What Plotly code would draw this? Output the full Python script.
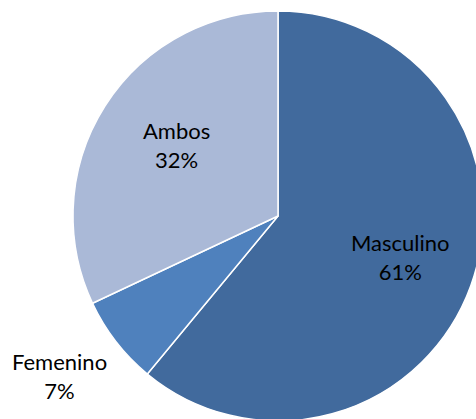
import plotly.graph_objects as go

labels = ["Masculino", "Femenino", "Ambos"]
values = [61, 7, 32]
colors = ["#416A9D", "#4F81BD", "#AAB9D7"]

# label anchor points (pixels in the 476x419 view) - styling only
label_px = [(400, 257), (59, 376), (176, 145)]

W, H = 486, 424
ML, MT = 73, 11
SIDE = 410

fig = go.Figure(go.Pie(
    labels=labels,
    values=values,
    sort=False,
    direction="clockwise",
    rotation=0,
    marker=dict(colors=colors, line=dict(color="white", width=1.5)),
    textinfo="none",
    showlegend=False,
    hoverinfo="skip",
))

total = sum(values)
for lab, val, (px, py) in zip(labels, values, label_px):
    fig.add_annotation(
        x=(px - ML) / SIDE,
        y=1 - (py - MT) / SIDE,
        xref="paper",
        yref="paper",
        text=f"{lab}<br>{round(100 * val / total)}%",
        showarrow=False,
        xanchor="center",
        yanchor="middle",
        align="center",
        font=dict(family="Lato", size=22, color="#000000"),
    )

fig.update_layout(
    width=W,
    height=H,
    autosize=False,
    margin=dict(l=ML, r=W - ML - SIDE, t=MT, b=H - MT - SIDE),
    paper_bgcolor="white",
    plot_bgcolor="white",
)

fig.write_html(
    "out.html",
    config={"displayModeBar": False},
    post_script="document.body.style.margin='0';document.body.style.overflow='hidden';document.documentElement.style.overflow='hidden';",
)
